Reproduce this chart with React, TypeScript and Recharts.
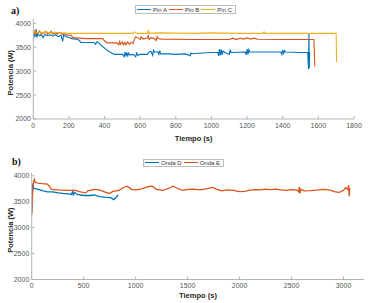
import React from 'react';
import { LineChart, Line, XAxis, YAxis, Legend, Label } from 'recharts';

// ---------- data ----------
const xTicksA = [0, 200, 400, 600, 800, 1000, 1200, 1400, 1600, 1800];
const xTicksB = [0, 500, 1000, 1500, 2000, 2500, 3000];
const yTicks = [2000, 2500, 3000, 3500, 4000];

const pinA: [number, number][] = [
  [0, 3650], [5, 3780], [10, 3720], [15, 3880], [20, 3700], [25, 3790], [35, 3740], [45, 3760],
  [55, 3700], [65, 3770], [80, 3740], [95, 3760], [110, 3730], [125, 3760], [140, 3720], [155, 3750],
  [165, 3620], [170, 3760], [185, 3720], [205, 3700], [215, 3680], [240, 3670], [260, 3640], [265, 3600],
  [300, 3600], [340, 3600], [350, 3560], [355, 3610], [365, 3600], [380, 3540], [400, 3480], [420, 3420],
  [440, 3380], [455, 3350], [500, 3350], [510, 3300], [515, 3400], [520, 3310], [525, 3390], [530, 3320],
  [535, 3380], [540, 3340], [560, 3350], [575, 3300], [580, 3390], [585, 3330], [600, 3350], [640, 3350],
  [650, 3400], [660, 3410], [670, 3330], [675, 3440], [680, 3400], [700, 3400], [705, 3350], [710, 3430],
  [715, 3360], [760, 3360], [800, 3350], [850, 3360], [870, 3340], [880, 3320], [885, 3380], [890, 3360],
  [900, 3370], [950, 3380], [1000, 3390], [1035, 3390], [1040, 3320], [1045, 3460], [1050, 3330],
  [1055, 3450], [1060, 3340], [1065, 3420], [1075, 3390], [1100, 3350], [1105, 3450], [1110, 3390],
  [1190, 3400], [1195, 3340], [1200, 3460], [1205, 3350], [1210, 3450], [1215, 3400], [1300, 3400],
  [1390, 3400], [1395, 3350], [1400, 3440], [1405, 3370], [1410, 3430], [1415, 3400], [1500, 3390],
  [1540, 3390], [1545, 3040], [1547, 3780], [1549, 3060], [1551, 3400],
];

const pinB: [number, number][] = [
  [0, 3780], [5, 3850], [10, 3760], [15, 3830], [25, 3790], [35, 3840], [45, 3770], [60, 3800],
  [70, 3830], [80, 3770], [90, 3800], [100, 3830], [110, 3770], [120, 3800], [135, 3780], [150, 3810],
  [165, 3760], [175, 3790], [190, 3750], [215, 3750], [220, 3700], [260, 3690], [300, 3680], [390, 3680],
  [400, 3630], [415, 3590], [470, 3590], [480, 3550], [485, 3620], [490, 3560], [500, 3610], [505, 3550],
  [515, 3600], [520, 3550], [530, 3610], [540, 3560], [550, 3600], [560, 3580], [570, 3690], [575, 3720],
  [590, 3690], [600, 3660], [605, 3720], [615, 3670], [640, 3690], [645, 3740], [650, 3660], [660, 3700],
  [680, 3680], [690, 3640], [695, 3720], [700, 3680], [720, 3670], [900, 3660], [1100, 3660],
  [1120, 3690], [1140, 3660], [1160, 3690], [1180, 3670], [1200, 3695], [1220, 3670], [1240, 3690],
  [1260, 3665], [1400, 3660], [1560, 3660], [1575, 3660], [1580, 3100],
];

const pinC: [number, number][] = [
  [0, 3800], [10, 3830], [20, 3790], [30, 3820], [50, 3800], [70, 3830], [90, 3790], [120, 3810],
  [160, 3800], [200, 3790], [400, 3790], [560, 3790], [570, 3820], [580, 3790], [640, 3790],
  [645, 3850], [650, 3790], [700, 3800], [900, 3790], [1000, 3800], [1150, 3790], [1290, 3790],
  [1295, 3820], [1300, 3790], [1500, 3790], [1700, 3790], [1702, 3190],
];

const ondaD: [number, number][] = [
  [0, 3280], [5, 3500], [8, 3850], [12, 3800], [20, 3760], [40, 3750], [80, 3730], [112, 3710],
  [150, 3690], [200, 3690], [260, 3670], [300, 3660], [350, 3650], [380, 3640], [395, 3700],
  [400, 3620], [410, 3680], [440, 3640], [500, 3620], [560, 3620], [600, 3630], [655, 3600],
  [700, 3590], [760, 3580], [790, 3540], [810, 3580], [830, 3630],
];

const ondaE: [number, number][] = [
  [0, 3250], [5, 3500], [15, 3850], [25, 3930], [35, 3870], [60, 3860], [100, 3850], [150, 3840],
  [170, 3800], [190, 3740], [250, 3730], [350, 3720], [420, 3720], [470, 3690], [520, 3670],
  [540, 3710], [600, 3740], [650, 3730], [700, 3690], [750, 3660], [780, 3700], [840, 3720],
  [880, 3770], [920, 3800], [960, 3740], [1000, 3730], [1060, 3750], [1120, 3790], [1160, 3800],
  [1200, 3740], [1260, 3720], [1320, 3760], [1360, 3800], [1400, 3760], [1450, 3720], [1500, 3740],
  [1560, 3745], [1620, 3730], [1680, 3750], [1740, 3775], [1780, 3740], [1830, 3710], [1880, 3730],
  [1940, 3720], [2000, 3695], [2050, 3700], [2100, 3725], [2150, 3735], [2200, 3730], [2250, 3745],
  [2300, 3735], [2350, 3745], [2400, 3730], [2450, 3720], [2500, 3735], [2550, 3725], [2570, 3690],
  [2575, 3790], [2580, 3660], [2590, 3740], [2620, 3710], [2680, 3715], [2740, 3725], [2800, 3740],
  [2860, 3730], [2920, 3690], [2960, 3680], [3000, 3720], [3020, 3770], [3040, 3740], [3050, 3820],
  [3055, 3600], [3060, 3760],
];

const legendA = [
  { name: 'Pin A', color: '#0072BD' },
  { name: 'Pin B', color: '#D95319' },
  { name: 'Pin C', color: '#EDB120' },
];
const legendB = [
  { name: 'Onda D', color: '#0072BD' },
  { name: 'Onda E', color: '#D95319' },
];

const rows = (s: [number, number][]) => s.map(([t, p]) => ({ t, p }));

// ---------- styling ----------
const FONT = '"Liberation Sans", Arial, Helvetica, sans-serif';
const AXIS = '#b4b4b4';
const TICKTXT = '#555555';
const TITLE = '#262626';

const tickStyle = { fontSize: 7, fill: TICKTXT, fontFamily: FONT };

const LegendBox = ({ items, height }: { items: { name: string; color: string }[]; height: number }) => (
  <div
    style={{
      display: 'flex',
      alignItems: 'center',
      height,
      boxSizing: 'border-box',
      border: '1px solid #bdbdbd',
      background: '#fff',
      padding: '0 3px 0 1px',
      fontFamily: FONT,
      fontSize: 6,
      color: '#333',
      whiteSpace: 'nowrap',
    }}
  >
    {items.map((it, i) => (
      <div key={it.name} style={{ display: 'flex', alignItems: 'center', marginLeft: i === 0 ? 0 : 2 }}>
        <div style={{ width: 14, height: 1.2, background: it.color, marginRight: 2 }} />
        <span>{it.name}</span>
      </div>
    ))}
  </div>
);

const yTitle = (dy: number) => (props: any) => {
  const vb = props.viewBox || {};
  const cx = 10;
  const cy = vb.y + vb.height / 2 + dy;
  return (
    <text
      transform={`translate(${cx},${cy}) rotate(-90)`}
      textAnchor="middle"
      dominantBaseline="central"
      style={{ fontSize: 7.5, fontWeight: 700, fill: TITLE, fontFamily: FONT }}
    >
      Potencia (W)
    </text>
  );
};

const Panel = ({
  width, height, margin, yAxisWidth, xDomain, yDomain, xTicks, series, legend, legendPos, legendH, xTitleOffset, yTitleDy, tickMarginX, tickMarginY, lineW,
}: any) => (
  <LineChart width={width} height={height} margin={margin}>
    <XAxis
      dataKey="t"
      type="number"
      domain={xDomain}
      ticks={xTicks}
      allowDataOverflow
      height={20}
      tickSize={-3}
      tickMargin={tickMarginX}
      tick={tickStyle}
      axisLine={{ stroke: AXIS }}
      tickLine={{ stroke: AXIS }}
      interval={0}
    >
      <Label
        value="Tiempo (s)"
        position="insideBottom"
        offset={xTitleOffset}
        style={{ fontSize: 7.5, fontWeight: 700, fill: TITLE, fontFamily: FONT }}
      />
    </XAxis>
    <XAxis
      xAxisId="top"
      orientation="top"
      type="number"
      domain={xDomain}
      ticks={xTicks}
      allowDataOverflow
      height={0}
      tickSize={-3}
      tick={false}
      axisLine={{ stroke: AXIS }}
      tickLine={{ stroke: AXIS }}
      interval={0}
    />
    <YAxis
      type="number"
      domain={yDomain}
      ticks={yTicks}
      allowDataOverflow
      width={yAxisWidth}
      tickSize={-3}
      tickMargin={tickMarginY}
      tick={tickStyle}
      axisLine={{ stroke: AXIS }}
      tickLine={{ stroke: AXIS }}
      interval={0}
      label={<Label content={yTitle(yTitleDy)} />}
    />
    <YAxis
      yAxisId="r"
      orientation="right"
      type="number"
      domain={yDomain}
      ticks={yTicks}
      allowDataOverflow
      width={0}
      tickSize={-3}
      tick={false}
      axisLine={{ stroke: AXIS }}
      tickLine={{ stroke: AXIS }}
      interval={0}
    />
    <Legend
      layout="horizontal"
      verticalAlign="middle"
      align="center"
      wrapperStyle={{ position: 'absolute', top: legendPos.top, left: legendPos.left, width: 'auto', height: 'auto' }}
      content={() => <LegendBox items={legend} height={legendH} />}
    />
    {series.map((s: any) => (
      <Line
        key={s.name}
        name={s.name}
        data={rows(s.data)}
        dataKey="p"
        stroke={s.color}
        strokeWidth={lineW}
        dot={false}
        activeDot={false}
        type="linear"
        isAnimationActive={false}
      />
    ))}
  </LineChart>
);

export default function App() {
  return (
    <div style={{ position: 'absolute', left: 0, top: 0, width: 378, height: 303, background: '#fff', overflow: 'hidden' }}>
      <svg width={378} height={303} style={{ position: 'absolute', left: 0, top: 0, pointerEvents: 'none' }}>
        <text x={11} y={13.5} style={{ fontFamily: '"Liberation Serif", "Times New Roman", serif', fontWeight: 700, fontSize: 10, fill: '#111' }}>a)</text>
        <text x={12} y={164.5} style={{ fontFamily: '"Liberation Serif", "Times New Roman", serif', fontWeight: 700, fontSize: 10, fill: '#111' }}>b)</text>
      </svg>
      <div style={{ position: 'absolute', left: 0, top: 0 }}>
        <Panel
          width={378}
          height={150}
          margin={{ top: 18.5, right: 24, bottom: 11, left: 0 }}
          yAxisWidth={33.3}
          xDomain={[0, 1800]}
          yDomain={[2000, 4100]}
          xTicks={xTicksA}
          series={[
            { name: 'Pin A', color: '#0072BD', data: pinA },
            { name: 'Pin B', color: '#D95319', data: pinB },
            { name: 'Pin C', color: '#EDB120', data: pinC },
          ]}
          legend={legendA}
          legendPos={{ top: 5, left: 135 }}
          legendH={9}
          xTitleOffset={-1.5}
          yTitleDy={4}
          tickMarginX={7.5}
          tickMarginY={5.3}
          lineW={1.1}
        />
      </div>
      <div style={{ position: 'absolute', left: 0, top: 150 }}>
        <Panel
          width={378}
          height={153}
          margin={{ top: 22.7, right: 13.7, bottom: 3.5, left: 0 }}
          yAxisWidth={31.7}
          xDomain={[0, 3200]}
          yDomain={[2000, 4060]}
          xTicks={xTicksB}
          series={[
            { name: 'Onda D', color: '#0072BD', data: ondaD },
            { name: 'Onda E', color: '#D95319', data: ondaE },
          ]}
          legend={legendB}
          legendPos={{ top: 8.5, left: 143 }}
          legendH={8.5}
          xTitleOffset={2}
          yTitleDy={4}
          tickMarginX={7}
          tickMarginY={5.4}
          lineW={1.3}
        />
      </div>
    </div>
  );
}
